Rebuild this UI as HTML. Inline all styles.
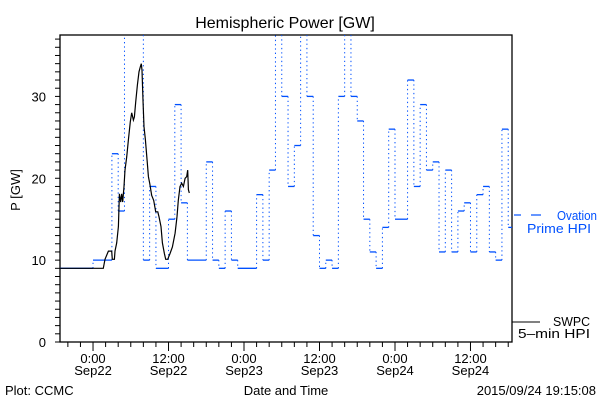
<!DOCTYPE html>
<html><head><meta charset="utf-8"><style>
body{margin:0;background:#fff;width:600px;height:400px;overflow:hidden}
text{font-family:"Liberation Sans",sans-serif;font-size:13px}
</style></head><body>
<svg id="chart" width="600" height="400" viewBox="0 0 600 400" xmlns="http://www.w3.org/2000/svg">
<text x="285" y="28" text-anchor="middle" style="font-size:16px">Hemispheric Power [GW]</text>
<text transform="translate(20,190) rotate(-90)" text-anchor="middle">P [GW]</text>
<text x="286" y="395" text-anchor="middle">Date and Time</text>
<text x="5" y="395">Plot: CCMC</text>
<text x="596" y="395" text-anchor="end">2015/09/24 19:15:08</text>
<g id="axes"></g>
<g id="series"></g>
<g>
<line x1="514" y1="215" x2="521" y2="215" stroke="#0050ff" stroke-width="1.2"/>
<line x1="531" y1="215" x2="541" y2="215" stroke="#0050ff" stroke-width="1.2"/>
<text x="557" y="220" fill="#0050ff" textLength="40" lengthAdjust="spacingAndGlyphs">Ovation</text>
<text x="527" y="233" fill="#0050ff" textLength="64" lengthAdjust="spacingAndGlyphs">Prime HPI</text>
</g>
<g>
<line x1="512" y1="322" x2="540" y2="322" stroke="#000" stroke-width="1"/>
<text x="553" y="326" textLength="37" lengthAdjust="spacingAndGlyphs">SWPC</text>
<text x="518" y="338" textLength="72" lengthAdjust="spacingAndGlyphs">5–min HPI</text>
</g>
</svg>
<script>
// Ovation hourly values: step start hours (from Sep22 0:00) and values
const ovStart=[-5.25,0,3,4,5,8,9,10,12,13,14,15,18,19,20,21,22,23,26,27,28,29,30,31,32,33,34,35,36,37,38,39,40,41,42,43,44,45,46,47,48,50,51,52,53,54,55,56,57,58,59,60,61,62,63,64,65,66];
const ovValues=[9,10,23,16,45,10,19,9,15,29,17,10,22,10,9,16,10,9,18,10,21,45,30,19,24,45,30,13,9,10,9,30,45,30,27,15,11,9,14,26,15,32,19,29,21,22,11,21,11,16,17,11,18,19,11,10,26,14];
const ovEnd=66.6;
// SWPC 5-min
const swT=[-5.25,1.64,1.91,2.44,2.97,3.07,3.39,3.5,3.76,4.03,4.19,4.4,4.56,4.72,4.93,5.09,5.35,5.62,5.93,6.15,6.41,6.57,6.78,7.05,7.31,7.52,7.68,7.79,7.95,8.11,8.32,8.59,8.8,9.01,9.33,9.65,9.97,10.29,10.49,10.81,11.02,11.34,11.55,11.87,12.24,12.61,13.04,13.35,13.56,13.83,14.1,14.36,14.63,14.89,15.05,15.16,15.31];
const swV=[9,9,10.1,11.1,11.1,10.1,10.1,11.1,12.1,14.1,18.1,17.1,18.1,17.1,19,21,22.6,24.7,26.9,28,27.1,27.5,29.3,31.4,33,33.6,34,33.2,29.5,26.3,24.7,22.2,20.2,19.4,17.9,17.3,15.9,15.9,15.3,14.1,12.1,10.8,10.1,10.1,10.8,11.6,13.3,15.3,17.3,19,19.4,19,20,20.2,21,18.6,18.2];
const xTickHours=[0,12,24,36,48,60];
const xTickLabels=[["0:00","Sep22"],["12:00","Sep22"],["0:00","Sep23"],["12:00","Sep23"],["0:00","Sep24"],["12:00","Sep24"]];
const yTicks=[0,10,20,30];

const L=60,R=512,T=35,B=342,tMin=-5.25,tMax=66.6,vMax=37.5;
const X=t=>L+(t-tMin)/(tMax-tMin)*(R-L);
const Y=v=>B-Math.min(v,vMax)/vMax*(B-T);
const NS="http://www.w3.org/2000/svg";
function mk(tag,attrs,parent){const e=document.createElementNS(NS,tag);for(const k in attrs)e.setAttribute(k,attrs[k]);parent.appendChild(e);return e;}
const ax=document.getElementById('axes'),se=document.getElementById('series');
const frame=mk('rect',{x:L,y:T,width:R-L,height:B-T,fill:'none',stroke:'#000','stroke-width':1.3},ax);


for(let v=0;v<=37;v++){mk('line',{x1:L-5,x2:L,y1:Y(v),y2:Y(v),stroke:'#000'},ax);}
yTicks.forEach(v=>{const t=mk('text',{x:L-14,y:Y(v)+5,'text-anchor':'end'},ax);t.textContent=v;

});
for(let h=-4;h<=66;h+=2){const maj=h%12===0;mk('line',{x1:X(h),x2:X(h),y1:B,y2:B+(maj?9:5),stroke:'#000'},ax);}
xTickHours.forEach((h,i)=>{const a=mk('text',{x:X(h),y:B+21,'text-anchor':'middle'},ax);a.textContent=xTickLabels[i][0];


const b=mk('text',{x:X(h),y:B+33,'text-anchor':'middle'},ax);b.textContent=xTickLabels[i][1];

});
// Ovation steps
for(let i=0;i<ovValues.length;i++){
 const x1=X(ovStart[i]),x2=X(i+1<ovStart.length?ovStart[i+1]:ovEnd),y=Y(ovValues[i]);
 if(ovValues[i]<vMax){const h=mk('line',{x1:x1,x2:x2,y1:y,y2:y,stroke:'#0050ff','stroke-width':1.3},se);
 
 }
 if(i>0){const d=mk('line',{x1:x1,x2:x1,y1:Y(ovValues[i-1]),y2:y,stroke:'#0050ff','stroke-width':1,'stroke-dasharray':'1.3,3'},se);
 
 }
}
const pts=swT.map((t,i)=>X(t).toFixed(1)+','+Y(swV[i]).toFixed(1)).join(' ');
const pl=mk('polyline',{points:pts,fill:'none',stroke:'#000','stroke-width':1.2},se);


</script>
</body></html>
